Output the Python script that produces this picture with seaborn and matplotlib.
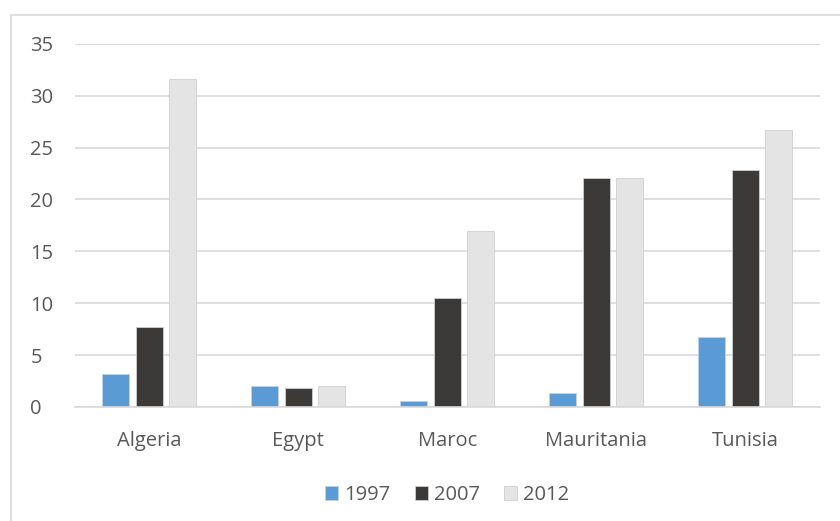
import pandas as pd
import matplotlib.pyplot as plt
import seaborn as sns
from matplotlib.patches import Rectangle

# valeurs
paises = ["Algeria", "Egypt", "Maroc", "Mauritania", "Tunisia"]
anos = ["1997", "2007", "2012"]
v1997 = [3.2, 2.0, 0.6, 1.3, 6.7]
v2007 = [7.7, 1.8, 10.5, 22.1, 22.8]
v2012 = [31.6, 2.0, 17.0, 22.1, 26.7]

df = pd.DataFrame({
    "Pays": paises * 3,
    "Ano": [anos[0]] * 5 + [anos[1]] * 5 + [anos[2]] * 5,
    "Valor": v1997 + v2007 + v2012,
})

cores = {"1997": "#5B9BD5", "2007": "#3B3A38", "2012": "#E4E4E4"}

sns.set_style("white")
plt.rcParams['font.family'] = ['Open Sans', 'DejaVu Sans']

fig = plt.figure(figsize=(8.4, 5.21), dpi=100)
ax = fig.add_axes([0.089, 0.219, 0.887, 0.697])

sns.barplot(data=df, x="Pays", y="Valor", hue="Ano", palette=cores, saturation=1,
            width=0.675, gap=0.2, ax=ax, legend=True, edgecolor="#CFCFCF", linewidth=0.6)

ax.set_ylim(0, 35)
ax.set_yticks(range(0, 36, 5))
ax.yaxis.grid(True, color="#D9D9D9", linewidth=1.2)
ax.set_axisbelow(True)
for s in ["top", "right", "left"]:
    ax.spines[s].set_visible(False)
ax.spines["bottom"].set_color("#D9D9D9")
ax.spines["bottom"].set_linewidth(1.2)
ax.set_xlabel("")
ax.set_ylabel("")
ax.tick_params(axis="both", length=0, labelsize=14.5, colors="#595959")
ax.tick_params(axis="x", pad=17)
ax.tick_params(axis="y", pad=32)
for t in ax.get_yticklabels():
    t.set_horizontalalignment("left")

ax.legend(loc="upper center", bbox_to_anchor=(0.5, -0.165), ncol=3, frameon=False,
          fontsize=14.5, labelcolor="#595959", handlelength=0.65, handleheight=0.65,
          handletextpad=0.3, columnspacing=1.2)

# cadre du graphique
fig.patches.append(Rectangle((11 / 840, -0.01), 1.0, 1 - 15 / 521 + 0.01,
                             transform=fig.transFigure, fill=False,
                             edgecolor="#D9D9D9", linewidth=1.2))

fig.savefig("out.png", dpi=100)
